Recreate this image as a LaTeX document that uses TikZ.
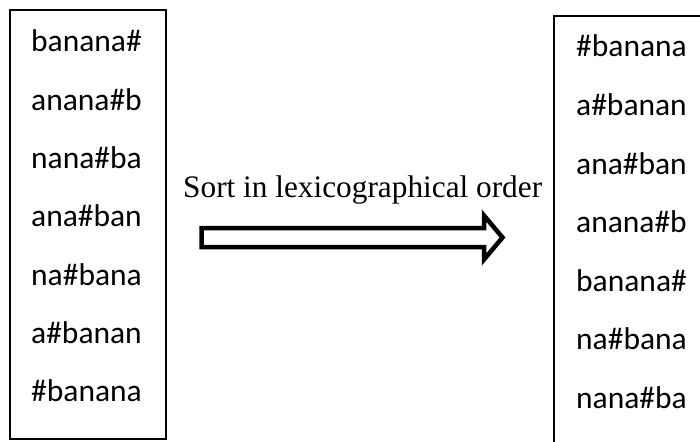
\documentclass[tikz,border=0pt]{standalone}
\usepackage{fontspec}
\setmainfont{Carlito}
\newfontfamily\timesfont{Liberation Serif}
\begin{document}
\begin{tikzpicture}[x=1pt,y=-1pt,
  word/.style={anchor=base west,inner sep=0pt,font=\fontsize{31.5}{36}\selectfont},
  boxline/.style={draw=black,line width=1.6pt},
  lbl/.style={anchor=base west,inner sep=0pt,font=\timesfont\fontsize{31.3}{36}\selectfont}]
\useasboundingbox (0,0) rectangle (700,441);
\clip (0,0) rectangle (700,441);
\fill[white] (0,0) rectangle (700,441);
% left box
\draw[boxline] (10,10) rectangle (166,439);
\node[word] (l1) at (31,52) {banana\#};
\node[word] (l2) at (31,110.3) {anana\#b};
\node[word] (l3) at (31,168.6) {nana\#ba};
\node[word] (l4) at (31,226.9) {ana\#ban};
\node[word] (l5) at (31,285.2) {na\#bana};
\node[word] (l6) at (31,343.5) {a\#banan};
\node[word] (l7) at (31,401.8) {\#banana};
% right box
\draw[boxline] (554,16) rectangle (730,470);
\node[word] (r1) at (576,57) {\#banana};
\node[word] (r2) at (576,115.5) {a\#banan};
\node[word] (r3) at (576,174) {ana\#ban};
\node[word] (r4) at (576,232.5) {anana\#b};
\node[word] (r5) at (576,291) {banana\#};
\node[word] (r6) at (576,349.5) {na\#bana};
\node[word] (r7) at (576,408) {nana\#ba};
% label
\node[lbl] (sortlabel) at (183,197) {Sort in lexicographical order};
% hollow block arrow
\draw[line width=4.5pt,miter limit=10,fill=white]
  (201.5,228) -- (484,228) -- (484,215.5) -- (502.5,237.5) -- (484,259.5) -- (484,247) -- (201.5,247) -- cycle;
\end{tikzpicture}
\end{document}
